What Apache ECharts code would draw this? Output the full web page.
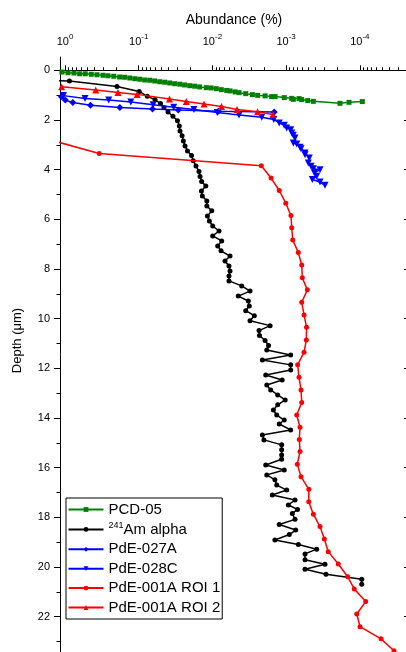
<!DOCTYPE html>
<html>
<head>
<meta charset="utf-8">
<script src="https://cdn.jsdelivr.net/npm/echarts@6/dist/echarts.min.js"></script>
<style>
  html, body { margin: 0; padding: 0; background: #fff; }
  #chart { width: 406px; height: 652px; }
</style>
</head>
<body>
<div id="chart"></div>
<script>
// Depth profiles: abundance (%) versus depth (µm)
const seriesNames = ['PCD-05', '241Am alpha', 'PdE-027A', 'PdE-028C', 'PdE-001A ROI 1', 'PdE-001A ROI 2'];

const pcdAbundance = [1.10, 0.91, 0.755, 0.632, 0.531, 0.440, 0.368, 0.305, 0.261, 0.218, 0.181, 0.155, 0.132, 0.113, 0.0968, 0.0829, 0.0709, 0.0607, 0.0519, 0.0444, 0.0380, 0.0325, 0.0277, 0.0238, 0.0203, 0.0174, 0.0149, 0.0121, 0.0104, 0.00886, 0.00757, 0.00640, 0.00577, 0.00493, 0.00435, 0.00353, 0.00287, 0.00243, 0.00193, 0.00157, 0.00141, 0.00106, 0.000839, 0.000798, 0.000668, 0.000614, 0.000509, 0.000427, 0.000186, 0.000140, 0.0000925];
const pcdDepth = [0.07, 0.10, 0.11, 0.14, 0.14, 0.16, 0.18, 0.20, 0.22, 0.24, 0.27, 0.28, 0.31, 0.34, 0.36, 0.39, 0.40, 0.43, 0.46, 0.48, 0.51, 0.54, 0.56, 0.59, 0.62, 0.64, 0.67, 0.70, 0.71, 0.74, 0.78, 0.81, 0.83, 0.87, 0.90, 0.94, 0.98, 1.01, 1.03, 1.06, 1.06, 1.10, 1.13, 1.17, 1.14, 1.18, 1.22, 1.25, 1.33, 1.29, 1.26];

const amAbundance = [1.35, 0.87, 0.197, 0.0985, 0.0764, 0.0601, 0.0506, 0.0454, 0.0400, 0.0343,
  0.0298, 0.0281, 0.0275, 0.0258, 0.0248, 0.0235, 0.0218, 0.0192, 0.0182, 0.0167,
  0.0152, 0.0147, 0.0140, 0.0123, 0.0141, 0.0137, 0.0119, 0.0119, 0.0102, 0.0117,
  0.0110, 0.00991, 0.00813, 0.00991, 0.00748, 0.00848, 0.00764, 0.00577, 0.00675, 0.00596,
  0.00577, 0.00596, 0.00596, 0.00400, 0.00309, 0.00446, 0.00326, 0.00316, 0.00353, 0.00270,
  0.00309, 0.00165, 0.00233, 0.00230, 0.00193, 0.00173, 0.00183, 0.000867, 0.00210, 0.000867,
  0.000867, 0.00189, 0.00113, 0.00183, 0.00162, 0.00130, 0.00103, 0.00130, 0.00149, 0.00134,
  0.00106, 0.00124, 0.000867, 0.00210, 0.00200, 0.00115, 0.00115, 0.00115, 0.00115, 0.00189,
  0.00106, 0.00183, 0.00142, 0.00134, 0.000982, 0.00154, 0.000757, 0.000933, 0.000700, 0.000824,
  0.000757, 0.00124, 0.000741, 0.000905, 0.00142, 0.000683, 0.000385, 0.000554, 0.000554, 0.000297,
  0.000554, 0.000288, 0.0000942, 0.0000942];
const amDepth = [0.42, 0.43, 0.65, 0.85, 1.05, 1.18, 1.34, 1.50, 1.68, 1.85,
  2.03, 2.24, 2.44, 2.64, 2.85, 3.05, 3.25, 3.43, 3.64, 3.85,
  4.07, 4.28, 4.48, 4.66, 4.86, 5.06, 5.26, 5.46, 5.66, 5.87,
  6.07, 6.27, 6.47, 6.67, 6.87, 7.07, 7.27, 7.48, 7.68, 7.88,
  8.08, 8.28, 8.48, 8.68, 8.89, 9.09, 9.29, 9.49, 9.68, 9.88,
  10.08, 10.28, 10.48, 10.68, 10.88, 11.08, 11.26, 11.46, 11.66, 11.86,
  12.07, 12.27, 12.47, 12.67, 12.87, 13.07, 13.27, 13.47, 13.68, 13.88,
  14.08, 14.24, 14.48, 14.68, 14.88, 15.08, 15.28, 15.49, 15.66, 15.89,
  16.09, 16.29, 16.49, 16.70, 16.90, 17.10, 17.30, 17.50, 17.68, 17.84,
  18.08, 18.29, 18.51, 18.69, 18.91, 19.09, 19.28, 19.47, 19.71, 19.89,
  20.09, 20.29, 20.49, 20.69];

const p27Abundance = [1.12, 0.99, 0.783, 0.451, 0.180, 0.0650, 0.0290, 0.00832, 0.00145];
const p27Depth = [1.07, 1.20, 1.30, 1.41, 1.50, 1.56, 1.60, 1.65, 1.68];

const p28Abundance = [1.05, 0.535, 0.255, 0.128, 0.0636, 0.0335, 0.0178, 0.00859, 0.00435, 0.00214,
  0.00147, 0.00124, 0.00106, 0.000982, 0.000867, 0.000839, 0.000798, 0.000757, 0.000798, 0.000718,
  0.000648, 0.000628, 0.000554, 0.000554, 0.000485, 0.000500, 0.000459, 0.000427, 0.000347, 0.000414,
  0.000385, 0.000441, 0.000347, 0.000297];
const p28Depth = [1.02, 1.14, 1.20, 1.28, 1.39, 1.49, 1.58, 1.70, 1.80, 1.89,
  1.98, 2.12, 2.21, 2.32, 2.39, 2.52, 2.62, 2.73, 2.93, 2.97,
  3.10, 3.16, 3.33, 3.40, 3.53, 3.73, 3.86, 3.96, 4.00, 4.13,
  4.27, 4.40, 4.50, 4.63];

const roi1Abundance = [1.28, 0.343, 0.00217, 0.00160, 0.00124, 0.00101, 0.000859, 0.000839, 0.000813, 0.000683,
  0.000614, 0.000603, 0.000515, 0.000614, 0.000571, 0.000528, 0.000532, 0.000571, 0.000697, 0.000668,
  0.000628, 0.000614, 0.000718, 0.000648, 0.000662, 0.000648, 0.000705, 0.000628, 0.000492, 0.000493,
  0.000427, 0.000347, 0.000303, 0.000268, 0.000196, 0.000146, 0.000119, 0.0000832, 0.000110, 0.0000993,
  0.0000515, 0.0000344];
const roi1Depth = [2.88, 3.35, 3.84, 4.34, 4.84, 5.35, 5.85, 6.34, 6.83, 7.34,
  7.84, 8.35, 8.84, 9.34, 9.85, 10.35, 10.86, 11.35, 11.86, 12.36,
  12.87, 13.37, 13.88, 14.37, 14.86, 15.35, 15.86, 16.36, 16.87, 17.37,
  17.87, 18.37, 18.87, 19.38, 19.88, 20.39, 20.88, 21.39, 21.89, 22.40,
  22.89, 23.37];

const roi2Abundance = [1.11, 0.383, 0.191, 0.105, 0.0382, 0.0226, 0.0130, 0.00753, 0.00464, 0.00244, 0.00151];
const roi2Depth = [0.66, 0.79, 0.89, 0.97, 1.16, 1.26, 1.36, 1.46, 1.58, 1.67, 1.78];

// Axis ranges and tick values
const xRange = [2.22e-5, 1.169];
const yRange = [-0.535, 23.42];
const xMajorTicks = [1, 0.1, 0.01, 0.001, 0.0001];
const yMajorTicks = [0, 2, 4, 6, 8, 10, 12, 14, 16, 18, 20, 22];
const yMinorTicks = [1, 3, 5, 7, 9, 11, 13, 15, 17, 19, 21, 23];

const xMinorTicks = [];
for (let e = 0; e >= -5; e--) {
  for (let k = 2; k <= 9; k++) {
    const v = +(k * Math.pow(10, e)).toPrecision(3);
    if (v >= xRange[0] && v <= xRange[1]) xMinorTicks.push(v);
  }
}

const FONT = '"Liberation Sans", Arial, Helvetica, sans-serif';

function pairs(xs, ys) {
  return xs.map((x, i) => [x, ys[i]]);
}

const styles = [
  { color: '#008000', symbol: 'rect', size: 5, rotate: 0 },
  { color: '#000000', symbol: 'circle', size: 5, rotate: 0 },
  { color: '#0000ff', symbol: 'diamond', size: 7, rotate: 0 },
  { color: '#0000ff', symbol: 'triangle', size: 7, rotate: 180 },
  { color: '#ff0000', symbol: 'circle', size: 5, rotate: 0 },
  { color: '#ff0000', symbol: 'triangle', size: 7, rotate: 0 }
];
const seriesData = [
  pairs(pcdAbundance, pcdDepth),
  pairs(amAbundance, amDepth),
  pairs(p27Abundance, p27Depth),
  pairs(p28Abundance, p28Depth),
  pairs(roi1Abundance, roi1Depth),
  pairs(roi2Abundance, roi2Depth)
];

const chart = echarts.init(document.getElementById('chart'), null, { renderer: 'canvas' });

const logAxisBase = {
  type: 'log',
  logBase: 10,
  inverse: true,
  min: xRange[0],
  max: xRange[1],
  position: 'top',
  gridIndex: 0,
  splitLine: { show: false },
  minorTick: { show: false },
  minorSplitLine: { show: false }
};
const depthAxisBase = {
  type: 'value',
  inverse: true,
  min: yRange[0],
  max: yRange[1],
  gridIndex: 0,
  splitLine: { show: false },
  minorTick: { show: false }
};

chart.setOption({
  animation: false,
  backgroundColor: '#ffffff',
  grid: {
    left: 60, top: 57, right: -2, bottom: 0,
    containLabel: false,
    outerBoundsMode: 'none'
  },
  xAxis: [
    Object.assign({}, logAxisBase, {
      name: 'Abundance (%)',
      nameLocation: 'middle',
      nameGap: 30,
      nameTextStyle: { fontSize: 14, color: '#000', fontFamily: FONT },
      axisLine: { show: true, lineStyle: { color: '#000', width: 1 } },
      axisTick: { show: true, inside: false, length: 5, customValues: xMajorTicks, lineStyle: { color: '#000', width: 1 } },
      axisLabel: {
        show: true,
        customValues: xMajorTicks,
        margin: 10,
        formatter: function (v) {
          return '{b|10}{s|' + Math.round(Math.log10(v)) + '}';
        },
        rich: {
          b: { fontSize: 11, color: '#000', fontFamily: FONT, verticalAlign: 'bottom', lineHeight: 14 },
          s: { fontSize: 8, color: '#000', fontFamily: FONT, verticalAlign: 'top', lineHeight: 9 }
        }
      }
    }),
    Object.assign({}, logAxisBase, {
      axisLine: { show: false },
      axisTick: { show: true, inside: false, length: 3, customValues: xMinorTicks, lineStyle: { color: '#000', width: 1 } },
      axisLabel: { show: false }
    })
  ],
  yAxis: [
    Object.assign({}, depthAxisBase, {
      position: 'left',
      name: 'Depth (μm)',
      nameLocation: 'middle',
      nameGap: 36,
      nameTextStyle: { fontSize: 13, color: '#000', fontFamily: FONT, padding: [0, 0, 0, 28] },
      axisLine: { show: true, lineStyle: { color: '#000', width: 1 } },
      axisTick: { show: true, inside: false, length: 6, customValues: yMajorTicks, lineStyle: { color: '#000', width: 1 } },
      axisLabel: { show: true, customValues: yMajorTicks, margin: 10, fontSize: 11, color: '#000', fontFamily: FONT }
    }),
    Object.assign({}, depthAxisBase, {
      position: 'left',
      axisLine: { show: false },
      axisTick: { show: true, inside: false, length: 3.5, customValues: yMinorTicks, lineStyle: { color: '#000', width: 1 } },
      axisLabel: { show: false }
    }),
    Object.assign({}, depthAxisBase, {
      position: 'right',
      axisLine: { show: true, lineStyle: { color: '#000', width: 1 } },
      axisTick: { show: true, inside: true, length: 4, customValues: yMajorTicks, lineStyle: { color: '#000', width: 1 } },
      axisLabel: { show: false }
    })
  ],
  legend: {
    orient: 'vertical',
    left: 66,
    top: 498,
    padding: [4, 2, 4, 1.5],
    itemWidth: 35,
    itemHeight: 6,
    itemGap: 4.4,
    borderColor: '#000',
    borderWidth: 1,
    borderRadius: 0,
    backgroundColor: '#fff',
    selectedMode: false,
    data: seriesNames,
    formatter: function (name) {
      return name === '241Am alpha' ? '{sup|241}{t|Am alpha}' : name;
    },
    textStyle: {
      fontSize: 15,
      color: '#000',
      fontFamily: FONT,
      rich: {
        sup: { fontSize: 9, color: '#000', fontFamily: FONT, verticalAlign: 'top', lineHeight: 10 },
        t: { fontSize: 15, color: '#000', fontFamily: FONT, verticalAlign: 'bottom', lineHeight: 16 }
      }
    }
  },
  series: seriesNames.map(function (name, i) {
    const s = styles[i];
    return {
      name: name,
      type: 'line',
      xAxisIndex: 0,
      yAxisIndex: 0,
      data: seriesData[i],
      symbol: s.symbol,
      symbolSize: s.size,
      symbolRotate: s.rotate,
      showSymbol: true,
      showAllSymbol: true,
      clip: true,
      lineStyle: { color: s.color, width: 1.5 },
      itemStyle: { color: s.color, borderWidth: 0 },
      emphasis: { disabled: true },
      z: 2 + i
    };
  })
});
</script>
</body>
</html>
